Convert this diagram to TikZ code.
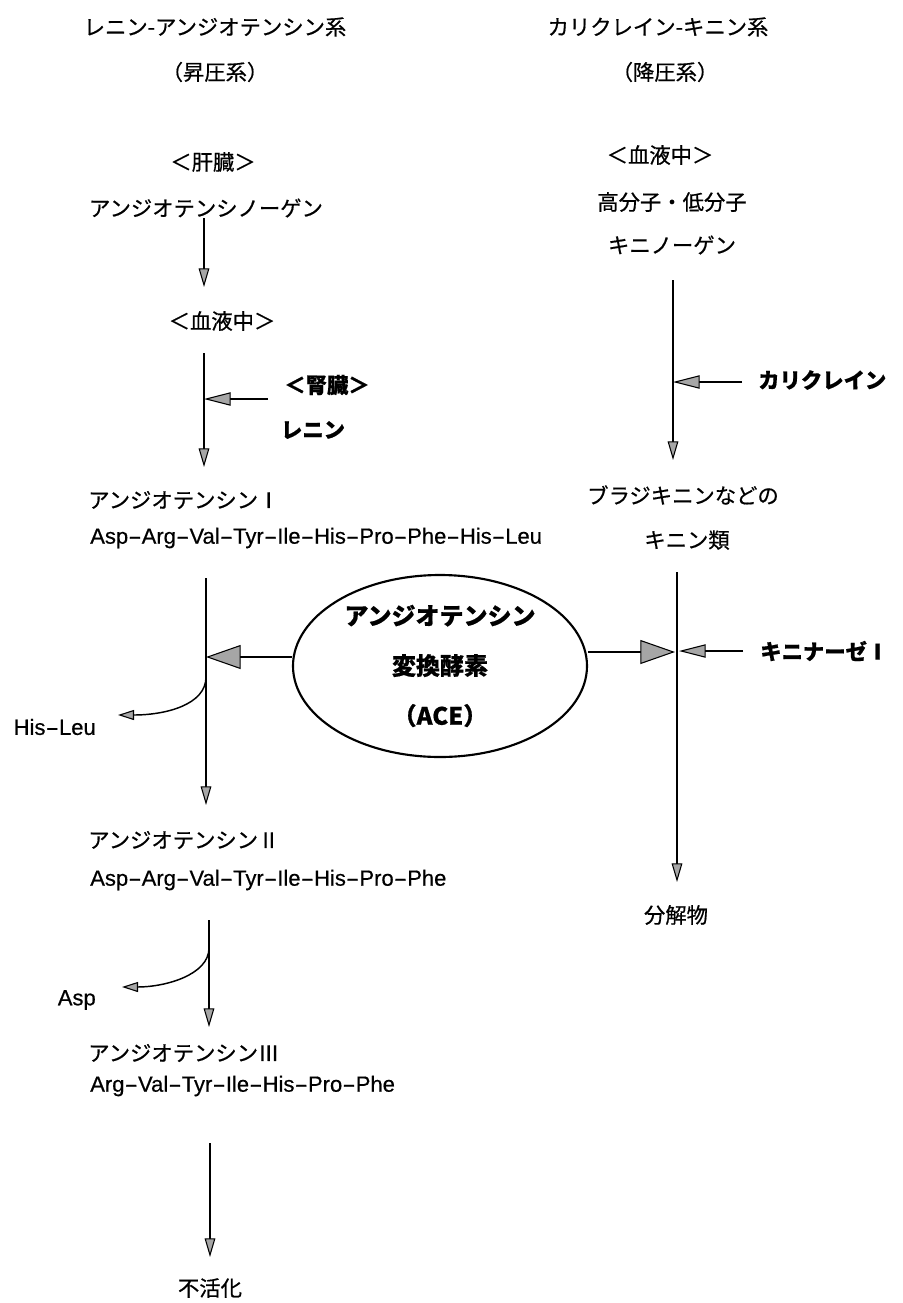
\documentclass[tikz,border=0pt]{standalone}
\usepackage{graphicx}
\usepackage{fontspec}
\setmainfont{Noto Sans CJK JP}[FakeBold=0.6]
\newfontfamily\lat{Liberation Sans}[FakeBold=0.5]
\newcommand\hy{\scalebox{1.85}[1]{-}}
\usetikzlibrary{arrows.meta,shapes.geometric}
\begin{document}
\begin{tikzpicture}[x=0.75pt,y=-0.75pt,
  jp/.style={font=\fontsize{16}{19}\selectfont, inner sep=0pt},
  jpb/.style={font=\fontsize{16}{19}\selectfont\bfseries, inner sep=0pt},
  pep/.style={font=\lat\fontsize{16.5}{19}\selectfont, inner sep=0pt},
  flow/.style={line width=1.1pt, -{Triangle[length=14pt,width=8pt,fill=gray!70,line width=0.8pt]}},
  side/.style={line width=1.1pt, -{Triangle[length=20pt,width=10pt,fill=gray!70,line width=0.8pt]}},
  big/.style={line width=1.3pt, -{Triangle[length=26pt,width=18pt,fill=gray!70,line width=0.8pt]}},
  curv/.style={line width=1.1pt, -{Triangle[length=12pt,width=7.5pt,fill=gray!70,line width=0.8pt]}}
]
\useasboundingbox (0,0) rectangle (903,1303);
% left column texts
\node[jp] (t1) at (215,27) {レニン-アンジオテンシン系};
\node[jp] (t2) at (215,72) {（昇圧系）};
\node[jp] (liver) at (213,162) {＜肝臓＞};
\node[jp] (agen) at (206,208) {アンジオテンシノーゲン};
\node[jp] (blood1) at (222,321) {＜血液中＞};
\node[jpb] (kidney) at (327,385) {＜腎臓＞};
\node[jpb] (renin) at (313,430) {レニン};
\node[jp,anchor=west] (ang1) at (88,500) {アンジオテンシンⅠ};
\node[pep,anchor=west] (pep1) at (90,538) {Asp\hy Arg\hy Val\hy Tyr\hy Ile\hy His\hy Pro\hy Phe\hy His\hy Leu};
\node[pep,anchor=east] (hisleu) at (96,727) {His\hy Leu};
\node[jp,anchor=west] (ang2) at (88,840) {アンジオテンシンⅡ};
\node[pep,anchor=west] (pep2) at (90,880) {Asp\hy Arg\hy Val\hy Tyr\hy Ile\hy His\hy Pro\hy Phe};
\node[pep,anchor=east] (asp) at (96,1000) {Asp};
\node[jp,anchor=west] (ang3) at (88,1053) {アンジオテンシンⅢ};
\node[pep,anchor=west] (pep3) at (90,1086) {Arg\hy Val\hy Tyr\hy Ile\hy His\hy Pro\hy Phe};
\node[jp] (inact) at (210,1288) {不活化};
% right column texts
\node[jp] (t3) at (658,27) {カリクレイン-キニン系};
\node[jp] (t4) at (665,72) {（降圧系）};
\node[jp] (blood2) at (660,155) {＜血液中＞};
\node[jp] (hl) at (672,202) {高分子・低分子};
\node[jp] (kng) at (672,245) {キニノーゲン};
\node[jpb,anchor=west] (kal) at (758,380) {カリクレイン};
\node[jp] (brady) at (683,495) {ブラジキニンなどの};
\node[jp] (kinins) at (687,540) {キニン類};
\node[jpb,anchor=west] (kinase) at (760,651) {キニナーゼⅠ};
\node[jp] (deg) at (676,915) {分解物};
% ACE ellipse
\node[ellipse, draw, line width=1.6pt, minimum width=220.5pt, minimum height=136.5pt,
      align=center, font=\fontsize{18}{37.5}\selectfont\bfseries, inner sep=0pt] (ace) at (440,666)
      {アンジオテンシン\\変換酵素\\（ACE）};
% coordinates
\coordinate (a1s) at (204,218); \coordinate (a1e) at (204,287);
\coordinate (a2s) at (204,353); \coordinate (a2e) at (204,467);
\coordinate (rj) at (204,399); \coordinate (rs) at (268,399);
\coordinate (a3s) at (206,578); \coordinate (a3e) at (206,805);
\coordinate (aj) at (206,657); \coordinate (hs) at (206,677); \coordinate (he) at (118,715);
\coordinate (a4s) at (209,920); \coordinate (a4e) at (209,1027);
\coordinate (ds) at (209,948); \coordinate (de) at (122,987);
\coordinate (a5s) at (210,1143); \coordinate (a5e) at (210,1257);
\coordinate (b1s) at (673,280); \coordinate (b1e) at (673,460);
\coordinate (kj) at (673,382); \coordinate (ks) at (742,382);
\coordinate (b2s) at (677,572); \coordinate (b2e) at (677,882);
\coordinate (cj) at (675,652); \coordinate (kn) at (679,651); \coordinate (kns) at (743,651);
% connectors
\draw[flow] (a1s) -- (a1e);
\draw[flow] (a2s) -- (a2e);
\draw[side] (rs) -- (rj);
\draw[flow] (a3s) -- (a3e);
\draw[big] (ace.west |- aj) -- (aj);
\draw[curv] (hs) .. controls (206,705) and (165,715) .. (he);
\draw[flow] (a4s) -- (a4e);
\draw[curv] (ds) .. controls (209,975) and (165,987) .. (de);
\draw[flow] (a5s) -- (a5e);
\draw[flow] (b1s) -- (b1e);
\draw[side] (ks) -- (kj);
\draw[flow] (b2s) -- (b2e);
\draw[big] (ace.east |- cj) -- (cj);
\draw[side] (kns) -- (kn);
\end{tikzpicture}
\end{document}
